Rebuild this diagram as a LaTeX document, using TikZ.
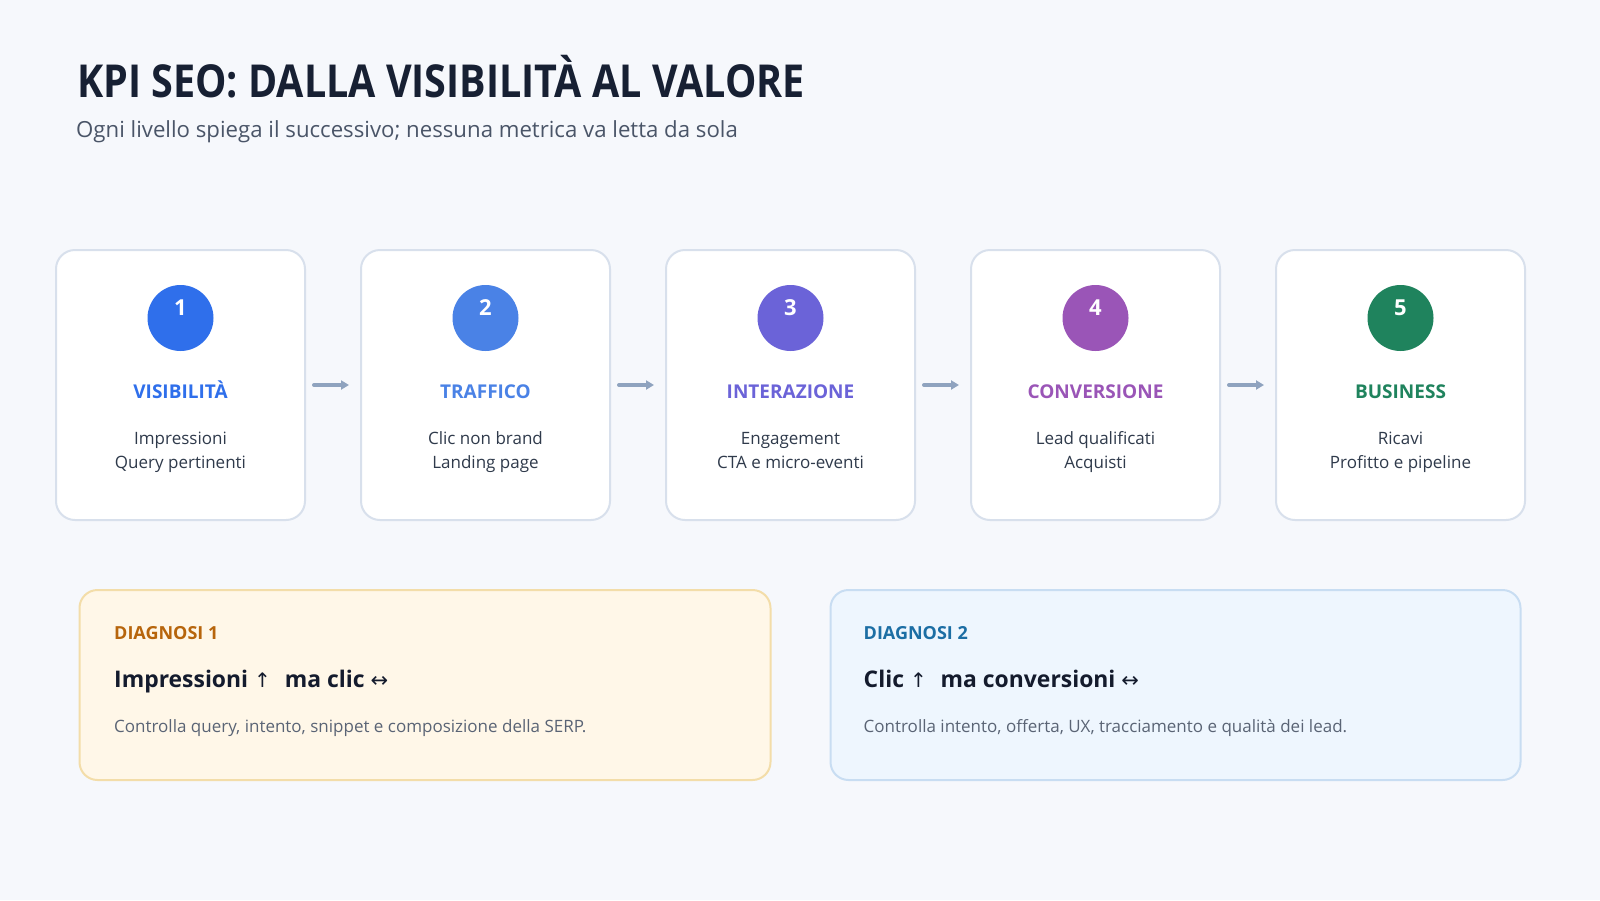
\documentclass[tikz,border=0pt]{standalone}
\usepackage{fontspec}
\setmainfont{Open Sans}
\newfontfamily\condfont[FakeStretch=0.87]{Open Sans}
\newfontfamily\arrowfont{DejaVu Sans}
\usetikzlibrary{arrows.meta}
\definecolor{bg}{HTML}{F6F8FC}
\definecolor{titlec}{HTML}{172033}
\definecolor{subc}{HTML}{4A5568}
\definecolor{boxline}{HTML}{D8E0EC}
\definecolor{metricc}{HTML}{2F3A4B}
\definecolor{arrowc}{HTML}{8FA3BF}
\definecolor{cA}{HTML}{2F6FEB}
\definecolor{cB}{HTML}{4A82E6}
\definecolor{cC}{HTML}{6B63D8}
\definecolor{cD}{HTML}{9A55B7}
\definecolor{cE}{HTML}{1F835D}
\definecolor{dAfill}{HTML}{FFF7E8}
\definecolor{dAline}{HTML}{F3DDA9}
\definecolor{dAlab}{HTML}{B7650C}
\definecolor{dBfill}{HTML}{EEF6FE}
\definecolor{dBline}{HTML}{C8DDF2}
\definecolor{dBlab}{HTML}{1C6EA4}
\definecolor{headc}{HTML}{141B2D}
\definecolor{descc}{HTML}{5A6475}
\tikzset{
  stagebox/.style={draw=boxline, line width=2pt, fill=white, rounded corners=19pt,
    minimum width=249pt, minimum height=270pt, inner sep=0pt},
  numcirc/.style={circle, minimum size=66pt, inner sep=0pt},
  numtxt/.style={anchor=base, text=white, inner sep=0pt, font=\fontsize{22}{26}\selectfont\bfseries},
  stagetitle/.style={anchor=base, inner sep=0pt, font=\fontsize{19}{24}\selectfont\bfseries},
  metric/.style={anchor=base, inner sep=0pt, text=metricc, font=\fontsize{17}{20}\selectfont},
  conn/.style={draw=arrowc, line width=4pt, line cap=round, -{Triangle[length=8pt,width=9pt]},
    shorten <=8pt, shorten >=11pt},
  diagbox/.style={rounded corners=18pt, line width=2pt, minimum height=190pt, inner sep=0pt},
  diaglab/.style={anchor=base west, inner sep=0pt, font=\fontsize{18}{20}\selectfont\bfseries},
  diaghead/.style={anchor=base west, inner sep=0pt, text=headc, font=\fontsize{22.9}{26}\selectfont\bfseries},
  diagdesc/.style={anchor=base west, inner sep=0pt, text=descc, font=\fontsize{17}{20}\selectfont},
}
\newcommand{\upa}{{\arrowfont\mdseries\fontsize{20}{24}\selectfont ↑}}
\newcommand{\lra}{{\arrowfont\mdseries\fontsize{21}{24}\selectfont ↔}}
\begin{document}
\begin{tikzpicture}[x=1pt,y=-1pt]
\fill[bg] (0,0) rectangle (1600,900);
\useasboundingbox (0,0) rectangle (1600,900);

\node[anchor=base west, inner sep=0pt, text=titlec, font=\condfont\bfseries\fontsize{45.4}{54}\selectfont] (title) at (77,97) {KPI SEO: DALLA VISIBILITÀ AL VALORE};
\node[anchor=base west, inner sep=0pt, text=subc, font=\fontsize{22.2}{26}\selectfont] (subtitle) at (76,137) {Ogni livello spiega il successivo; nessuna metrica va letta da sola};

% stages
\foreach \i/\cx/\col/\num/\ttl/\ma/\mb in {
  1/180.5/cA/1/VISIBILITÀ/Impressioni/Query pertinenti,
  2/485.5/cB/2/TRAFFICO/Clic non brand/Landing page,
  3/790.5/cC/3/INTERAZIONE/Engagement/CTA e micro-eventi,
  4/1095.5/cD/4/CONVERSIONE/Lead qualificati/Acquisti,
  5/1400.5/cE/5/BUSINESS/Ricavi/Profitto e pipeline}{
  \node[stagebox] (b\i) at (\cx,385) {};
  \node[numcirc, fill=\col] (c\i) at (\cx,318) {};
  \node[numtxt] (n\i) at (\cx,315.5) {\num};
  \node[stagetitle, text=\col] (t\i) at (\cx,398) {\ttl};
  \node[metric] (ma\i) at (\cx,444) {\ma};
  \node[metric] (mb\i) at (\cx,468) {\mb};
}
\draw[conn] (b1) -- (b2);
\draw[conn] (b2) -- (b3);
\draw[conn] (b3) -- (b4);
\draw[conn] (b4) -- (b5);

% diagnosis boxes
\node[diagbox, draw=dAline, fill=dAfill, minimum width=691pt] (dA) at (425,685) {};
\node[diagbox, draw=dBline, fill=dBfill, minimum width=690pt] (dB) at (1175.5,685) {};

\node[diaglab, text=dAlab] (lA) at (114,639) {DIAGNOSI 1};
\node[diaghead] (hA) at (114,687) {Impressioni \upa\hspace{8pt} ma clic \lra};
\node[diagdesc] (sA) at (114,732) {Controlla query, intento, snippet e composizione della SERP.};

\node[diaglab, text=dBlab] (lB) at (863.5,639) {DIAGNOSI 2};
\node[diaghead] (hB) at (863.5,687) {Clic \upa\hspace{8pt} ma conversioni \lra};
\node[diagdesc] (sB) at (863.5,732) {Controlla intento, offerta, UX, tracciamento e qualità dei lead.};
\end{tikzpicture}
\end{document}
